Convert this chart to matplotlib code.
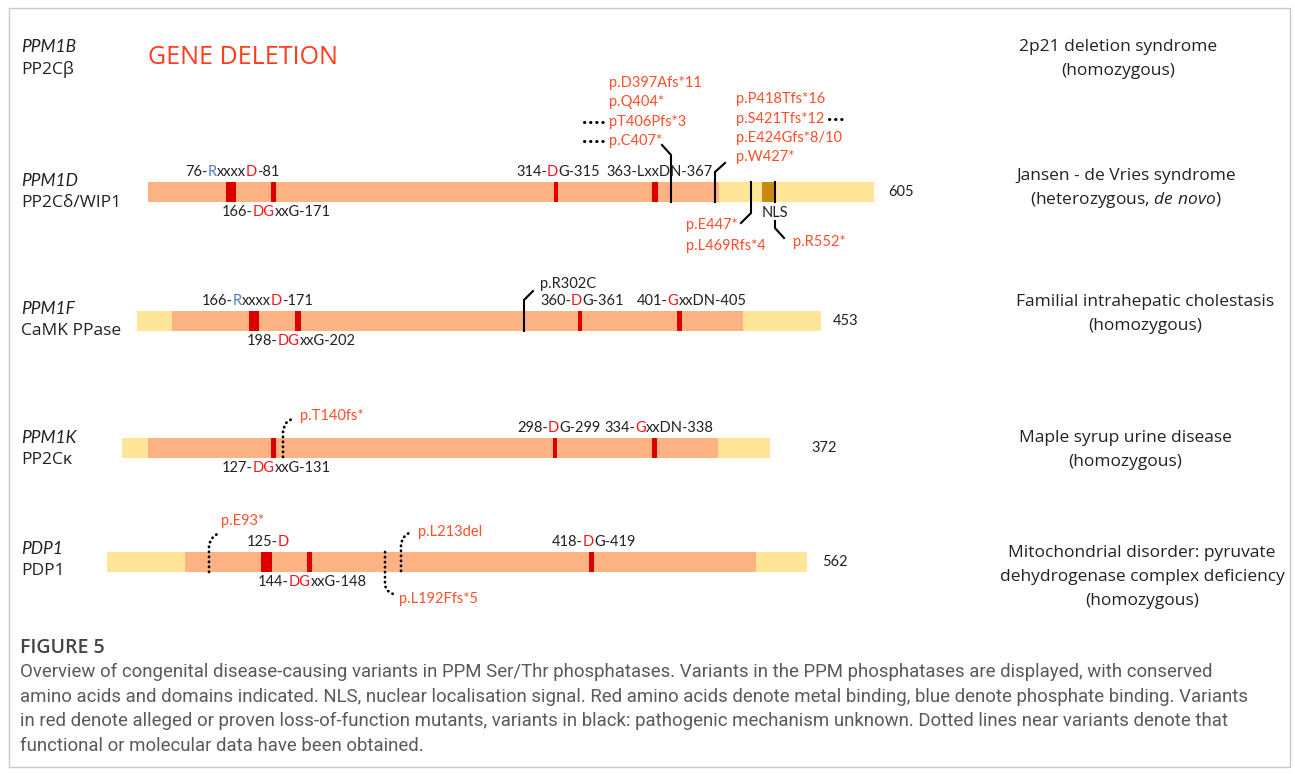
import matplotlib.pyplot as plt
from matplotlib.patches import Rectangle
from matplotlib.offsetbox import TextArea, HPacker, AnnotationBbox

plt.rcParams['font.family'] = ['Lato', 'DejaVu Sans']
plt.rcParams['mathtext.fontset'] = 'custom'
plt.rcParams['mathtext.rm'] = 'Open Sans'
plt.rcParams['mathtext.it'] = 'Open Sans:italic'

## Colours
CAT = '#FCB283'      # catalytic domain
TAIL = '#FFE597'     # N/C terminal extensions
MOTIF = '#DC0000'
NLS_C = '#C88A12'
VAR_RED = '#FF4E2A'
LET_RED = '#F2161B'
LET_BLUE = '#4A7EC8'
INK = '#222222'
COLS = {'k': INK, 'r': LET_RED, 'b': LET_BLUE}

## Data (schematic x positions)
genes = ['PPM1B', 'PPM1D', 'PPM1F', 'PPM1K', 'PDP1']
proteins = ['PP2Cβ', 'PP2Cδ/WIP1', 'CaMK PPase', 'PP2Cκ', 'PDP1']
lengths = ['', '605', '453', '372', '562']
diseases = [
    ['2p21 deletion syndrome', '(homozygous)'],
    ['Jansen - de Vries syndrome', r'(heterozygous, $\mathit{de\ novo}$)'],
    ['Familial intrahepatic cholestasis', '(homozygous)'],
    ['Maple syrup urine disease', '(homozygous)'],
    ['Mitochondrial disorder: pyruvate', 'dehydrogenase complex deficiency', '(homozygous)'],
]

bar_edges = [[], [148, 719, 874], [137, 172, 743, 821], [122, 148, 718, 770], [107, 185, 756, 807]]
bar_kinds = [[], ['cat', 'tail'], ['tail', 'cat', 'tail'], ['tail', 'cat', 'tail'], ['tail', 'cat', 'tail']]
nls_span = (762, 775)

motifs = [
    [],
    [(226, 236), (271, 276), (554, 558), (652, 658)],
    [(249, 259), (295, 301), (578, 582), (677, 682)],
    [(271, 276), (553, 557), (652, 657)],
    [(261, 272), (307, 312), (589, 594)],
]

motif_labels = [
    [],
    [(185, 'up', [('76-', 'k'), ('R', 'b'), ('xxxx', 'k'), ('D', 'r'), ('-81', 'k')]),
     (222, 'down', [('166-', 'k'), ('DG', 'r'), ('xxG-171', 'k')]),
     (516, 'up', [('314-', 'k'), ('D', 'r'), ('G-315', 'k')]),
     (606, 'up', [('363-LxxDN-367', 'k')])],
    [(202, 'up', [('166-', 'k'), ('R', 'b'), ('xxxx', 'k'), ('D', 'r'), ('-171', 'k')]),
     (247, 'down', [('198-', 'k'), ('DG', 'r'), ('xxG-202', 'k')]),
     (540, 'up', [('360-', 'k'), ('D', 'r'), ('G-361', 'k')]),
     (637, 'up', [('401-', 'k'), ('G', 'r'), ('xxDN-405', 'k')])],
    [(222, 'down', [('127-', 'k'), ('DG', 'r'), ('xxG-131', 'k')]),
     (517, 'up', [('298-', 'k'), ('D', 'r'), ('G-299', 'k')]),
     (604, 'up', [('334-', 'k'), ('G', 'r'), ('xxDN-338', 'k')])],
    [(247, 'up', [('125-', 'k'), ('D', 'r')]),
     (258, 'down', [('144-', 'k'), ('DG', 'r'), ('xxG-148', 'k')]),
     (552, 'up', [('418-', 'k'), ('D', 'r'), ('G-419', 'k')])],
]

variant_row = [1, 1, 1, 1, 2, 3, 4, 4, 4]
variant_labels = [
    ['p.D397Afs*11', 'p.Q404*', 'pT406Pfs*3', 'p.C407*'],
    ['p.P418Tfs*16', 'p.S421Tfs*12', 'p.E424Gfs*8/10', 'p.W427*'],
    ['p.E447*', 'p.L469Rfs*4'],
    ['p.R552*'],
    ['p.R302C'],
    ['p.T140fs*'],
    ['p.E93*'],
    ['p.L192Ffs*5'],
    ['p.L213del'],
]
variant_color = ['r', 'r', 'r', 'r', 'k', 'r', 'r', 'r', 'r']
variant_dotted = [False, False, False, False, False, True, True, True, True]

## Layout of the connector lines and label blocks
variant_paths = [
    [[(671, 202), (671, 155), (662, 145)]],
    [[(715, 202), (715, 172), (725, 163)]],
    [[(751, 182), (751, 213), (741, 223)]],
    [[(775, 182), (775, 202)], [(775, 221), (775, 228), (784, 238)]],
    [[(524, 331), (524, 300), (533, 291)]],
    [[(283, 457), (283, 430), (286, 423), (293, 418)]],
    [[(209, 572), (209, 544), (213, 537), (220, 532)]],
    [[(385, 552), (385, 586), (388, 591), (393, 594)]],
    [[(401, 571), (401, 543), (404, 537), (410, 532)]],
]
variant_text_x = [609, 736, 686, 793, 540, 300, 221, 399, 418]
variant_text_y = [[83, 102, 122, 141], [99, 119, 138, 157], [225, 246], [242], [284], [416], [521], [599], [532]]
lead_dots = [((584, 603), 122), ((584, 603), 141), ((829, 847), 119)]

row_y = [58, 192, 321, 448, 562]
gene_y = [47, 181, 309, 438, 549]
length_x = [0, 888, 833, 811, 822]
disease_x = [1118, 1126, 1145, 1125, 1142]
disease_y = [47, 176, 302, 438, 553]

caption = [
    'Overview of congenital disease-causing variants in PPM Ser/Thr phosphatases. Variants in the PPM phosphatases are displayed, with conserved',
    'amino acids and domains indicated. NLS, nuclear localisation signal. Red amino acids denote metal binding, blue denote phosphate binding. Variants',
    'in red denote alleged or proven loss-of-function mutants, variants in black: pathogenic mechanism unknown. Dotted lines near variants denote that',
    'functional or molecular data have been obtained.',
]

BAR_H = 20
FS_GENE = 12.5
FS_SMALL = 10.5
FS_DIS = 12.5
DOT = (0, (0.1, 1.7))

fig = plt.figure(figsize=(12.95, 7.74), dpi=100)
ax = fig.add_axes([0, 0, 1, 1])
ax.set_xlim(0, 1295)
ax.set_ylim(774, 0)
ax.axis('off')

ax.add_patch(Rectangle((9, 8), 1281, 759, fill=False, edgecolor='#c9c9c9', lw=1))


def rich(x, y, parts, size):
    boxes = [TextArea(t, textprops=dict(color=COLS[c], fontsize=size)) for t, c in parts]
    pack = HPacker(children=boxes, align='baseline', pad=0, sep=0)
    ab = AnnotationBbox(pack, (x, y), frameon=False, box_alignment=(0, 0.5), pad=0)
    ax.add_artist(ab)


## Left labels and right-hand diseases
for i, g in enumerate(genes):
    ax.text(21, gene_y[i], g, style='italic', fontsize=FS_GENE, color=INK, va='center')
    ax.text(21, gene_y[i] + 22, proteins[i], fontsize=FS_GENE, color=INK, va='center',
            family=['Open Sans', 'DejaVu Sans'])
    for j, line in enumerate(diseases[i]):
        ax.text(disease_x[i], disease_y[i] + 24 * j, line, fontsize=FS_DIS, color=INK,
                ha='center', va='center', family=['Open Sans', 'DejaVu Sans'])

ax.text(148, 57, 'GENE DELETION', fontsize=18, color='#FF3C1C', va='center',
        family=['Open Sans', 'DejaVu Sans'])

## Protein bars
for i in range(1, len(genes)):
    y = row_y[i]
    edges = bar_edges[i]
    for k, kind in enumerate(bar_kinds[i]):
        ax.add_patch(Rectangle((edges[k], y - BAR_H / 2), edges[k + 1] - edges[k], BAR_H,
                               facecolor=CAT if kind == 'cat' else TAIL, edgecolor='none'))
    for x0, x1 in motifs[i]:
        ax.add_patch(Rectangle((x0, y - BAR_H / 2), x1 - x0, BAR_H, facecolor=MOTIF, edgecolor='none'))
    for x, side, parts in motif_labels[i]:
        rich(x, y - 20 if side == 'up' else y + 20, parts, FS_SMALL)
    ax.text(length_x[i], y, lengths[i], fontsize=FS_SMALL, color=INK, va='center')

## NLS in PPM1D
ax.add_patch(Rectangle((nls_span[0], row_y[1] - BAR_H / 2), nls_span[1] - nls_span[0], BAR_H,
                       facecolor=NLS_C, edgecolor='none'))
ax.text(775, 213, 'NLS', fontsize=FS_SMALL, color=INK, ha='center', va='center')

## Variants
for v in range(len(variant_labels)):
    for path in variant_paths[v]:
        xs = [p[0] for p in path]
        ys = [p[1] for p in path]
        if variant_dotted[v]:
            ax.plot(xs, ys, color='k', lw=2.0, ls=DOT, dash_capstyle='round')
        else:
            ax.plot(xs, ys, color='k', lw=1.5, solid_joinstyle='miter')
    col = VAR_RED if variant_color[v] == 'r' else INK
    for lab, ty in zip(variant_labels[v], variant_text_y[v]):
        ax.text(variant_text_x[v], ty, lab, fontsize=FS_SMALL, color=col, va='center')

for (x0, x1), y in lead_dots:
    ax.plot([x0, x1], [y, y], color='k', lw=2.2, ls=(0, (0.1, 1.9)), dash_capstyle='round')

## Caption
ax.text(20, 648, 'FIGURE 5', fontsize=14, color='#444444', weight='semibold', va='center',
        family=['Open Sans', 'DejaVu Sans'])
for j, line in enumerate(caption):
    ax.text(20, 672 + 24.6 * j, line, fontsize=13.4, color='#5a5a5a', va='center',
            family=['Roboto', 'DejaVu Sans'])

fig.savefig('out.png', dpi=100)
